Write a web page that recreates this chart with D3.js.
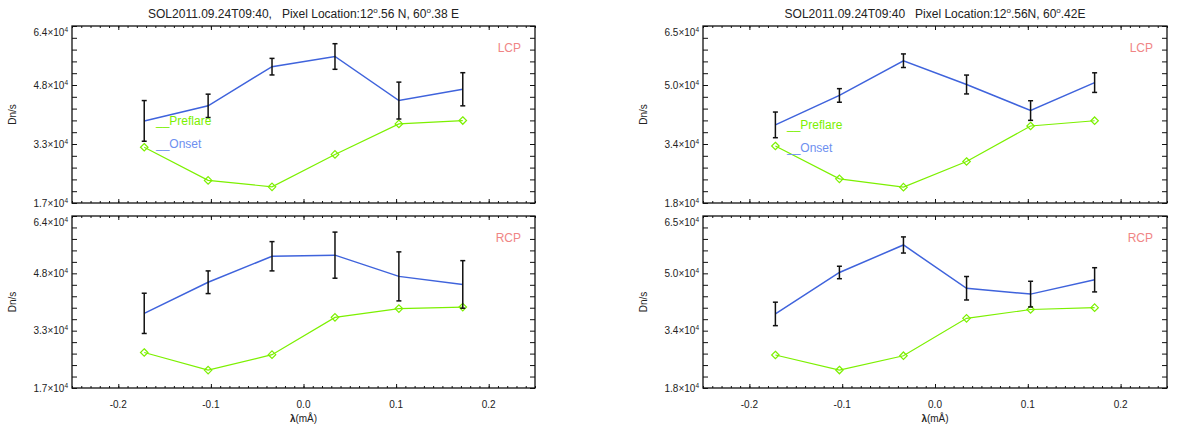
<!DOCTYPE html>
<html>
<head>
<meta charset="utf-8">
<script src="https://cdn.jsdelivr.net/npm/d3@7"></script>
<style>
  body { margin: 0; background: #fff; }
  text { font-family: "Liberation Sans", Arial, Helvetica, sans-serif; fill: #222; white-space: pre; }
</style>
</head>
<body>
<div id="my_chart"></div>
<script>
// wavelength offsets (mA) of the six line positions
const lambda = [-0.172, -0.103, -0.034, 0.034, 0.103, 0.172];

// left column, pixel 12.56 N, 60.38 E
const leftLcpOnset = [38800, 42800, 53200, 55900, 44200, 47200];
const leftLcpOnsetErr = [5400, 3100, 2200, 3400, 4900, 4400];
const leftLcpPreflare = [31800, 23000, 21300, 29900, 38000, 38900];
const leftRcpOnset = [37400, 45900, 53000, 53300, 47500, 45300];
const leftRcpOnsetErr = [5500, 3100, 4000, 6300, 6700, 6500];
const leftRcpPreflare = [26700, 21900, 26100, 36300, 38700, 39100];

// right column, pixel 12.56 N, 60.42 E
const rightLcpOnset = [39100, 46900, 56100, 49800, 42900, 50300];
const rightLcpOnsetErr = [3400, 1800, 1800, 2500, 2600, 2600];
const rightLcpPreflare = [33500, 24800, 22600, 29400, 38800, 40200];
const rightRcpOnset = [38600, 49900, 57400, 45600, 44000, 47900];
const rightRcpOnsetErr = [3200, 1700, 2200, 3200, 3500, 3300];
const rightRcpPreflare = [27400, 23300, 27200, 37400, 39800, 40300];

// axis ranges and tick labels
const leftYRange = [17000, 64000];
const rightYRange = [18400, 65300];
const leftYTickLabels = ["1.7", "3.3", "4.8", "6.4"];
const rightYTickLabels = ["1.8", "3.4", "5.0", "6.5"];
const xTicks = [-0.2, -0.1, 0.0, 0.1, 0.2];
const xTickLabels = ["-0.2", "-0.1", "0.0", "0.1", "0.2"];

const leftTitle = ["SOL2011.09.24T09:40,   Pixel Location:12", "o", ".56 N, 60", "o", ".38 E"];
const rightTitle = ["SOL2011.09.24T09:40   Pixel Location:12", "o", ".56N, 60", "o", ".42E"];

const W = 1178, H = 432;
const svg = d3.select("#my_chart").append("svg")
  .attr("width", W).attr("height", H);

const blue = "#3f63dc";
const green = "#7cf000";
const pink = "#f08585";

const columns = [
  {x0: 72, x1: 535, title: leftTitle, yRange: leftYRange, yLabels: leftYTickLabels,
   legY: [121, 144],
   rows: [
     {name: "LCP", onset: leftLcpOnset, err: leftLcpOnsetErr, pre: leftLcpPreflare},
     {name: "RCP", onset: leftRcpOnset, err: leftRcpOnsetErr, pre: leftRcpPreflare}
   ]},
  {x0: 703, x1: 1167, title: rightTitle, yRange: rightYRange, yLabels: rightYTickLabels,
   legY: [125, 148],
   rows: [
     {name: "LCP", onset: rightLcpOnset, err: rightLcpOnsetErr, pre: rightLcpPreflare},
     {name: "RCP", onset: rightRcpOnset, err: rightRcpOnsetErr, pre: rightRcpPreflare}
   ]}
];
const rowBox = [{y0: 26, y1: 203}, {y0: 216, y1: 388}];

columns.forEach(function (col) {
  const x = d3.scaleLinear().domain([-0.25, 0.25]).range([col.x0, col.x1]);

  // title
  const t = svg.append("text")
    .attr("x", (col.x0 + col.x1) / 2).attr("y", 18)
    .attr("text-anchor", "middle").style("font-size", "12px");
  col.title.forEach(function (s, i) {
    if (i % 2 === 1) {
      t.append("tspan").attr("dy", -5).style("font-size", "8px").text(s);
    } else {
      t.append("tspan").attr("dy", i === 0 ? 0 : 5).text(s);
    }
  });

  col.rows.forEach(function (row, ri) {
    const box = rowBox[ri];
    const y = d3.scaleLinear().domain(col.yRange).range([box.y1, box.y0]);
    const g = svg.append("g");
    const step = (col.yRange[1] - col.yRange[0]) / 3;
    const yMajor = d3.range(4).map(i => col.yRange[0] + i * step);
    const yMinor = d3.range(16).map(i => col.yRange[0] + i * step / 5);

    // ticks (inward, all four sides)
    g.append("g").attr("transform", `translate(${col.x0},0)`)
      .call(d3.axisRight(y).tickValues(yMinor).tickSize(5).tickFormat(""));
    g.append("g").attr("transform", `translate(${col.x1},0)`)
      .call(d3.axisLeft(y).tickValues(yMinor).tickSize(5).tickFormat(""));
    const xMinor = d3.range(-25, 26).map(i => i / 100);
    g.append("g").attr("transform", `translate(0,${box.y1})`)
      .call(d3.axisTop(x).tickValues(xMinor).tickSize(2).tickFormat(""));
    g.append("g").attr("transform", `translate(0,${box.y1})`)
      .call(d3.axisTop(x).tickValues(xTicks).tickSize(4).tickFormat(""));
    g.append("g").attr("transform", `translate(0,${box.y0})`)
      .call(d3.axisBottom(x).tickValues(xMinor).tickSize(2).tickFormat(""));
    g.append("g").attr("transform", `translate(0,${box.y0})`)
      .call(d3.axisBottom(x).tickValues(xTicks).tickSize(4).tickFormat(""));
    g.selectAll(".domain").remove();
    g.selectAll(".tick line").attr("stroke", "#111").attr("stroke-width", 1);

    // frame
    g.append("rect")
      .attr("x", col.x0).attr("y", box.y0)
      .attr("width", col.x1 - col.x0).attr("height", box.y1 - box.y0)
      .attr("fill", "none").attr("stroke", "#111").attr("stroke-width", 1.3);

    // y tick labels  a.b×10^4
    yMajor.forEach(function (v, i) {
      const lab = g.append("text")
        .attr("x", col.x0 - 4)
        .attr("y", y(v) + (i === 3 ? 10 : 3.5))
        .attr("text-anchor", "end").style("font-size", "10px");
      lab.append("tspan").text(col.yLabels[i] + "\u00d710");
      lab.append("tspan").attr("dy", -4).style("font-size", "6.5px").text("4");
    });

    // y axis title
    g.append("text")
      .attr("transform", `translate(${col.x0 - 56},${(box.y0 + box.y1) / 2}) rotate(-90)`)
      .attr("text-anchor", "middle").style("font-size", "10px").text("Dn/s");

    // x tick labels + title only on the bottom row
    if (ri === 1) {
      xTicks.forEach(function (v, i) {
        g.append("text").attr("x", x(v)).attr("y", box.y1 + 20)
          .attr("text-anchor", "middle").style("font-size", "10px").text(xTickLabels[i]);
      });
      const xl = g.append("text").attr("x", x(0)).attr("y", box.y1 + 34)
        .attr("text-anchor", "middle").style("font-size", "10px");
      xl.append("tspan").style("font-weight", "bold").text("\u03bb");
      xl.append("tspan").text("(m\u00c5)");
    }

    // preflare line with diamonds
    const pts = lambda.map((l, i) => ({l: l, pre: row.pre[i], on: row.onset[i], e: row.err[i]}));
    g.append("path").datum(pts)
      .attr("fill", "none").attr("stroke", green).attr("stroke-width", 1.2)
      .attr("d", d3.line().x(d => x(d.l)).y(d => y(d.pre)));
    g.selectAll(".dia").data(pts).enter().append("path")
      .attr("fill", "none").attr("stroke", green).attr("stroke-width", 1.2)
      .attr("d", d3.symbol().type(d3.symbolDiamond2).size(36))
      .attr("transform", d => `translate(${x(d.l)},${y(d.pre)})`);

    // onset line
    g.append("path").datum(pts)
      .attr("fill", "none").attr("stroke", blue).attr("stroke-width", 1.5)
      .attr("d", d3.line().x(d => x(d.l)).y(d => y(d.on)));

    // error bars
    const eb = g.selectAll(".eb").data(pts).enter().append("g")
      .attr("stroke", "#111").attr("stroke-width", 1.5);
    eb.append("line").attr("x1", d => x(d.l)).attr("x2", d => x(d.l))
      .attr("y1", d => y(d.on - d.e)).attr("y2", d => y(d.on + d.e));
    eb.append("line").attr("x1", d => x(d.l) - 2.5).attr("x2", d => x(d.l) + 2.5)
      .attr("y1", d => y(d.on - d.e)).attr("y2", d => y(d.on - d.e));
    eb.append("line").attr("x1", d => x(d.l) - 2.5).attr("x2", d => x(d.l) + 2.5)
      .attr("y1", d => y(d.on + d.e)).attr("y2", d => y(d.on + d.e));

    // panel label
    g.append("text").attr("x", col.x1 - 14).attr("y", box.y0 + 26)
      .attr("text-anchor", "end").style("font-size", "12px")
      .style("fill", pink).text(row.name);

    // legend (top row only)
    if (ri === 0) {
      g.append("text").attr("x", col.x0 + 84).attr("y", col.legY[0] + 4)
        .style("font-size", "12px").style("fill", green).text("__Preflare");
      g.append("text").attr("x", col.x0 + 84).attr("y", col.legY[1] + 4)
        .style("font-size", "12px").style("fill", "#6d8ff0").text("__Onset");
    }
  });
});
</script>
</body>
</html>
